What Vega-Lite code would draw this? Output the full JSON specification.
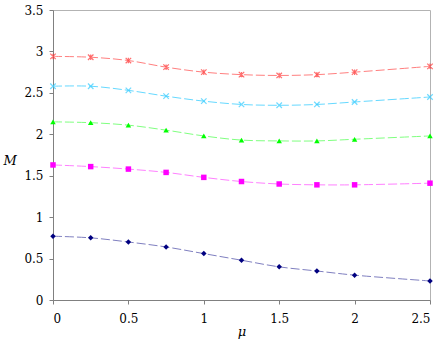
{
  "$schema": "https://vega.github.io/schema/vega-lite/v6.json",
  "width": 377,
  "height": 290,
  "autosize": {"type": "none"},
  "padding": {"left": 53, "top": 10, "right": 9, "bottom": 46},
  "background": "white",
  "config": {
    "view": {"stroke": "#b3b3b3", "strokeWidth": 1},
    "font": "DejaVu Serif",
    "axis": {"grid": false, "domainColor": "#808080", "tickColor": "#808080", "labelFont": "DejaVu Serif", "titleFont": "DejaVu Serif", "labelFontSize": 12, "labelColor": "black", "titleFontSize": 13, "titleFontStyle": "italic", "titleFontWeight": "normal", "titleColor": "black", "tickSize": 4}
  },
  "data": {"values": [
    {"s": "1", "mu": 0, "M": 2.94}, {"s": "1", "mu": 0.25, "M": 2.93}, {"s": "1", "mu": 0.5, "M": 2.89}, {"s": "1", "mu": 0.75, "M": 2.81}, {"s": "1", "mu": 1.0, "M": 2.75}, {"s": "1", "mu": 1.25, "M": 2.72}, {"s": "1", "mu": 1.5, "M": 2.71}, {"s": "1", "mu": 1.75, "M": 2.72}, {"s": "1", "mu": 2.0, "M": 2.75}, {"s": "1", "mu": 2.5, "M": 2.82},
    {"s": "2", "mu": 0, "M": 2.58}, {"s": "2", "mu": 0.25, "M": 2.58}, {"s": "2", "mu": 0.5, "M": 2.53}, {"s": "2", "mu": 0.75, "M": 2.46}, {"s": "2", "mu": 1.0, "M": 2.40}, {"s": "2", "mu": 1.25, "M": 2.36}, {"s": "2", "mu": 1.5, "M": 2.35}, {"s": "2", "mu": 1.75, "M": 2.36}, {"s": "2", "mu": 2.0, "M": 2.39}, {"s": "2", "mu": 2.5, "M": 2.45},
    {"s": "3", "mu": 0, "M": 2.15}, {"s": "3", "mu": 0.25, "M": 2.14}, {"s": "3", "mu": 0.5, "M": 2.11}, {"s": "3", "mu": 0.75, "M": 2.05}, {"s": "3", "mu": 1.0, "M": 1.98}, {"s": "3", "mu": 1.25, "M": 1.93}, {"s": "3", "mu": 1.5, "M": 1.92}, {"s": "3", "mu": 1.75, "M": 1.92}, {"s": "3", "mu": 2.0, "M": 1.94}, {"s": "3", "mu": 2.5, "M": 1.98},
    {"s": "4", "mu": 0, "M": 1.63}, {"s": "4", "mu": 0.25, "M": 1.61}, {"s": "4", "mu": 0.5, "M": 1.58}, {"s": "4", "mu": 0.75, "M": 1.54}, {"s": "4", "mu": 1.0, "M": 1.48}, {"s": "4", "mu": 1.25, "M": 1.43}, {"s": "4", "mu": 1.5, "M": 1.40}, {"s": "4", "mu": 1.75, "M": 1.39}, {"s": "4", "mu": 2.0, "M": 1.39}, {"s": "4", "mu": 2.5, "M": 1.41},
    {"s": "5", "mu": 0, "M": 0.77}, {"s": "5", "mu": 0.25, "M": 0.75}, {"s": "5", "mu": 0.5, "M": 0.70}, {"s": "5", "mu": 0.75, "M": 0.64}, {"s": "5", "mu": 1.0, "M": 0.56}, {"s": "5", "mu": 1.25, "M": 0.48}, {"s": "5", "mu": 1.5, "M": 0.40}, {"s": "5", "mu": 1.75, "M": 0.35}, {"s": "5", "mu": 2.0, "M": 0.30}, {"s": "5", "mu": 2.5, "M": 0.23}
  ]},
  "encoding": {
    "x": {"field": "mu", "type": "quantitative", "scale": {"domain": [0, 2.5], "nice": false}, "axis": {"title": "μ", "labelFont": "DejaVu Serif", "titleFont": "DejaVu Serif", "values": [0, 0.5, 1, 1.5, 2, 2.5], "format": "~g", "labelPadding": 9, "titlePadding": 1}},
    "y": {"field": "M", "type": "quantitative", "scale": {"domain": [0, 3.5], "nice": false}, "axis": {"title": "M", "labelFont": "DejaVu Serif", "titleFont": "DejaVu Serif", "values": [0, 0.5, 1, 1.5, 2, 2.5, 3, 3.5], "format": "~g", "labelPadding": 6, "titleAngle": 0, "titleX": -50, "titleY": 150, "titleAlign": "left", "titleBaseline": "middle"}}
  },
  "layer": [
    {
      "mark": {"type": "line", "interpolate": "catmull-rom", "strokeWidth": 1, "strokeDash": [9, 3]},
      "encoding": {
        "color": {"field": "s", "type": "nominal", "legend": null, "scale": {"domain": ["1", "2", "3", "4", "5"], "range": ["#ff7f7f", "#66d9ff", "#80ff80", "#ff80ff", "#7f7fc0"]}}
      }
    },
    {
      "mark": {"type": "point", "filled": false, "size": 30, "strokeWidth": 1.2},
      "transform": [{"filter": "datum.s == '1' || datum.s == '2'"}],
      "encoding": {
        "stroke": {"field": "s", "type": "nominal", "legend": null, "scale": {"domain": ["1", "2"], "range": ["#ff3333", "#33ccff"]}},
        "shape": {"field": "s", "type": "nominal", "legend": null, "scale": {"domain": ["1", "2"], "range": ["M-1,-1L1,1M-1,1L1,-1M0,-1L0,1", "M-1,-1L1,1M-1,1L1,-1"]}}
      }
    },
    {
      "mark": {"type": "point", "filled": true, "opacity": 1, "size": 30},
      "transform": [{"filter": "datum.s != '1' && datum.s != '2'"}],
      "encoding": {
        "fill": {"field": "s", "type": "nominal", "legend": null, "scale": {"domain": ["3", "4", "5"], "range": ["#00ff00", "#ff00ff", "#000080"]}},
        "shape": {"field": "s", "type": "nominal", "legend": null, "scale": {"domain": ["3", "4", "5"], "range": ["triangle-up", "square", "diamond"]}}
      }
    }
  ],
  "resolve": {"scale": {"color": "independent", "shape": "independent", "fill": "independent", "stroke": "independent"}}
}
